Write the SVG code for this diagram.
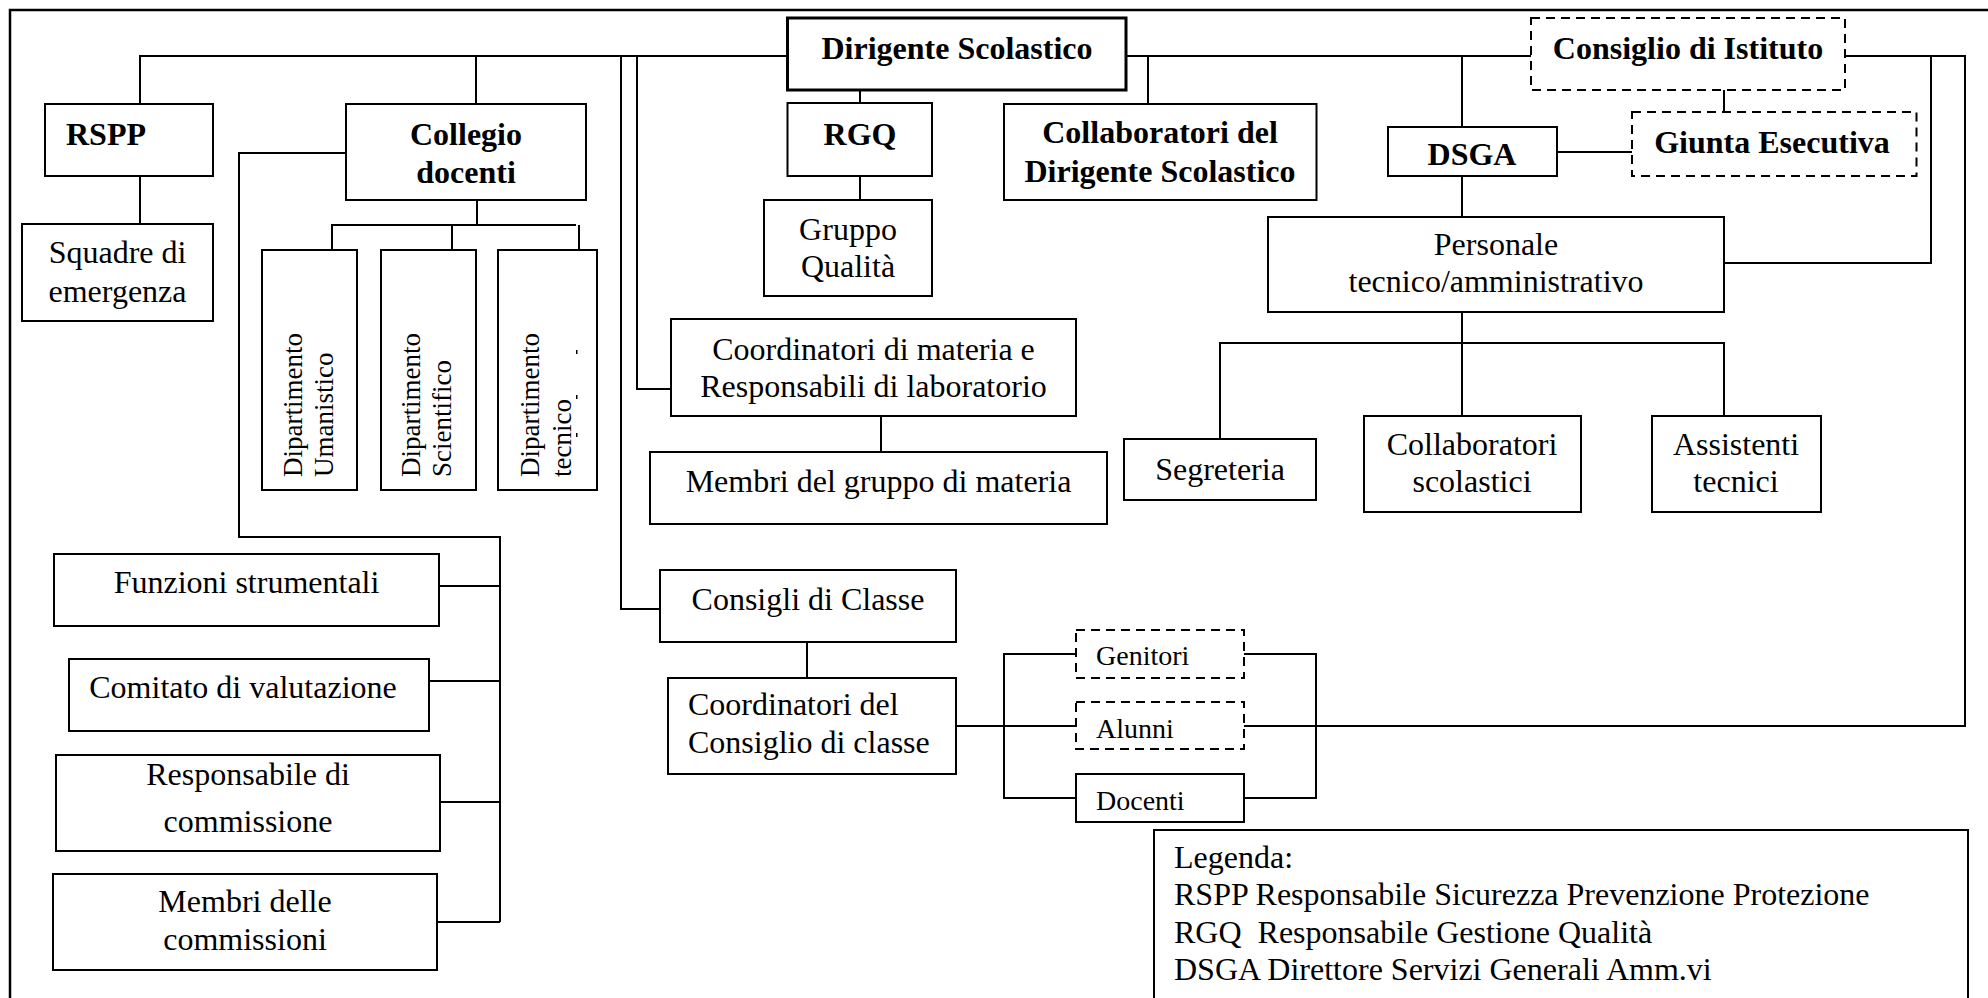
<svg xmlns="http://www.w3.org/2000/svg" width="1988" height="998" viewBox="0 0 1988 998">
<style>
.b{fill:#fff;stroke:#000;stroke-width:2}
.d{fill:#fff;stroke:#000;stroke-width:2;stroke-dasharray:9 6}
.c{fill:none;stroke:#000;stroke-width:2}
.t{font-family:"Liberation Serif","Times New Roman",serif;font-size:32px;fill:#000}
.m{text-anchor:middle}
.w{font-weight:bold}
.s{font-size:28px}
.r{font-size:27px}
.pre{white-space:pre}
</style>
<rect width="1988" height="998" fill="#fff"/>
<path d="M10,998 V10 H1988" fill="none" stroke="#000" stroke-width="2.5"/>
<g id="connectors" class="c">
<path d="M140,104 V56 H787.5"/>
<path d="M1126,56 H1531"/>
<path d="M1845,56 H1965 V726 H1244"/>
<path d="M476,56 V104"/>
<path d="M621,56 V609 H660"/>
<path d="M637,56 V389 H671"/>
<path d="M1148,56 V104"/>
<path d="M1462,56 V127"/>
<path d="M1931,56 V263 H1724"/>
<path d="M140,176 V224"/>
<path d="M346,153 H239 V537 H500 V922"/>
<path d="M439,586 H500"/>
<path d="M429,681 H500"/>
<path d="M440,802 H500"/>
<path d="M437,922 H500"/>
<path d="M477,200 V225"/>
<path d="M332,250 V225 H576"/>
<path d="M452,225 V250"/>
<path d="M579,225 V250"/>
<path d="M860,90 V103"/>
<path d="M860,176 V200"/>
<path d="M1462,176 V217"/>
<path d="M1462,312 V416"/>
<path d="M1220,439 V343 H1724 V416"/>
<path d="M1557,152 H1632"/>
<path d="M1724,90 V112"/>
<path d="M881,416 V452"/>
<path d="M807,642 V678"/>
<path d="M956,726 H1076"/>
<path d="M1076,654 H1004 V798 H1076"/>
<path d="M1244,654 H1316 V798 H1244"/>
</g>
<g id="dirigente">
<rect x="787.5" y="18" width="338.5" height="72" fill="#fff" stroke="#000" stroke-width="3"/>
<text class="t m w" x="957" y="59">Dirigente Scolastico</text>
</g>
<g id="rspp">
<rect class="b" x="45" y="104" width="168" height="72"/>
<text class="t w" x="66" y="145">RSPP</text>
</g>
<g id="squadre">
<rect class="b" x="22" y="224" width="191" height="97"/>
<text class="t m" x="117.5" y="263">Squadre di</text>
<text class="t m" x="117.5" y="302">emergenza</text>
</g>
<g id="collegio">
<rect class="b" x="346" y="104" width="240" height="96"/>
<text class="t m w" x="466" y="145">Collegio</text>
<text class="t m w" x="466" y="183">docenti</text>
</g>
<g id="dip-umanistico">
<rect class="b" x="262" y="250" width="95" height="240"/>
<g transform="translate(302,477) rotate(-90)">
<text class="t r" x="0" y="0">Dipartimento</text>
<text class="t r" x="0" y="31">Umanistico</text>
</g>
</g>
<g id="dip-scientifico">
<rect class="b" x="381" y="250" width="95" height="240"/>
<g transform="translate(420,477) rotate(-90)">
<text class="t r" x="0" y="0">Dipartimento</text>
<text class="t r" x="0" y="31">Scientifico</text>
</g>
</g>
<g id="dip-tecnico">
<rect class="b" x="498" y="250" width="99" height="240"/>
<g transform="translate(539,477) rotate(-90)">
<text class="t r" x="0" y="0">Dipartimento</text>
<text class="t r" x="0" y="32">tecnico</text>
</g>
<rect x="576" y="350" width="1.5" height="4" fill="#000"/>
<rect x="576" y="395" width="1.5" height="4" fill="#000"/>
<rect x="576" y="433" width="1.5" height="4" fill="#000"/>
</g>
<g id="funzioni">
<rect class="b" x="54" y="554" width="385" height="72"/>
<text class="t m" x="246.5" y="593">Funzioni strumentali</text>
</g>
<g id="comitato">
<rect class="b" x="69" y="659" width="360" height="72"/>
<text class="t m" x="243" y="698">Comitato di valutazione</text>
</g>
<g id="responsabile">
<rect class="b" x="56" y="755" width="384" height="96"/>
<text class="t m" x="248" y="785">Responsabile di</text>
<text class="t m" x="248" y="832">commissione</text>
</g>
<g id="membri-commissioni">
<rect class="b" x="53" y="874" width="384" height="96"/>
<text class="t m" x="245" y="912">Membri delle</text>
<text class="t m" x="245" y="950">commissioni</text>
</g>
<g id="rgq">
<rect class="b" x="787.5" y="103" width="144.5" height="73"/>
<text class="t m w" x="860" y="145">RGQ</text>
</g>
<g id="gruppo-qualita">
<rect class="b" x="764" y="200" width="168" height="96"/>
<text class="t m" x="848" y="240">Gruppo</text>
<text class="t m" x="848" y="277">Qualità</text>
</g>
<g id="collaboratori-ds">
<rect class="b" x="1004" y="104" width="312.5" height="96"/>
<text class="t m w" x="1160" y="143">Collaboratori del</text>
<text class="t m w" x="1160" y="182">Dirigente Scolastico</text>
</g>
<g id="consiglio-istituto">
<rect class="d" x="1531" y="18" width="314" height="72"/>
<text class="t m w" x="1688" y="59">Consiglio di Istituto</text>
</g>
<g id="giunta">
<rect class="d" x="1632" y="112" width="284.5" height="64"/>
<text class="t m w" x="1772" y="153">Giunta Esecutiva</text>
</g>
<g id="dsga">
<rect class="b" x="1388" y="127" width="169" height="49"/>
<text class="t m w" x="1472" y="165">DSGA</text>
</g>
<g id="personale">
<rect class="b" x="1268" y="217" width="456" height="95"/>
<text class="t m" x="1496" y="255">Personale</text>
<text class="t m" x="1496" y="292">tecnico/amministrativo</text>
</g>
<g id="segreteria">
<rect class="b" x="1124" y="439" width="192" height="61"/>
<text class="t m" x="1220" y="480">Segreteria</text>
</g>
<g id="collaboratori-scolastici">
<rect class="b" x="1364" y="416" width="217" height="96"/>
<text class="t m" x="1472" y="455">Collaboratori</text>
<text class="t m" x="1472" y="492">scolastici</text>
</g>
<g id="assistenti">
<rect class="b" x="1652" y="416" width="169" height="96"/>
<text class="t m" x="1736" y="455">Assistenti</text>
<text class="t m" x="1736" y="492">tecnici</text>
</g>
<g id="coordinatori-materia">
<rect class="b" x="671" y="319" width="405" height="97"/>
<text class="t m" x="873.5" y="360">Coordinatori di materia e</text>
<text class="t m" x="873.5" y="397">Responsabili di laboratorio</text>
</g>
<g id="membri-gruppo">
<rect class="b" x="650" y="452" width="457" height="72"/>
<text class="t m" x="878.5" y="492">Membri del gruppo di materia</text>
</g>
<g id="consigli-classe">
<rect class="b" x="660" y="570" width="296" height="72"/>
<text class="t m" x="808" y="610">Consigli di Classe</text>
</g>
<g id="coordinatori-consiglio">
<rect class="b" x="668" y="678" width="288" height="96"/>
<text class="t" x="688" y="715">Coordinatori del</text>
<text class="t" x="688" y="753">Consiglio di classe</text>
</g>
<g id="genitori">
<rect class="d" x="1076" y="630" width="168" height="48"/>
<text class="t s" x="1096" y="665">Genitori</text>
</g>
<g id="alunni">
<rect class="d" x="1076" y="702" width="168" height="47"/>
<text class="t s" x="1096" y="738">Alunni</text>
</g>
<g id="docenti">
<rect class="b" x="1076" y="774" width="168" height="48"/>
<text class="t s" x="1096" y="810">Docenti</text>
</g>
<g id="legenda">
<path d="M1154,1000 V830 H1968 V1000" fill="#fff" stroke="#000" stroke-width="2"/>
<text class="t" x="1174" y="868">Legenda:</text>
<text class="t" x="1174" y="905">RSPP Responsabile Sicurezza Prevenzione Protezione</text>
<text class="t pre" x="1174" y="943">RGQ  Responsabile Gestione Qualità</text>
<text class="t" x="1174" y="980">DSGA Direttore Servizi Generali Amm.vi</text>
</g>
</svg>
